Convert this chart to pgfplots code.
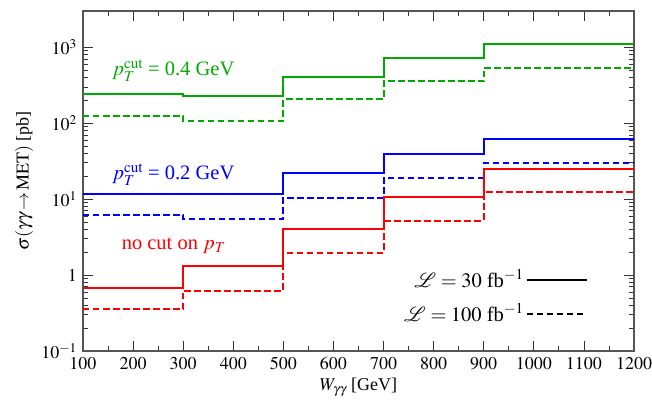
\documentclass[border=0pt]{standalone}
\usepackage{mathptmx}
\usepackage[no-math]{fontspec}
\setmainfont{Liberation Serif}
\usepackage{pgfplots}
\pgfplotsset{compat=1.18}
\definecolor{cgreen}{RGB}{0,170,0}
\definecolor{cblue}{RGB}{0,0,255}
\definecolor{cred}{RGB}{255,0,0}
\definecolor{axgray}{RGB}{85,85,85}
\begin{document}
\fontsize{18}{21}\selectfont
\begin{tikzpicture}
\begin{axis}[
  name=ax,
  scale only axis,
  width=551pt, height=340pt,
  ymode=log,
  xmin=100, xmax=1200,
  ymin=0.1, ymax=3000,
  xtick={100,200,...,1200},
  minor x tick num=1,
  xticklabel style={/pgf/number format/1000 sep={}},
  ytick={0.1,1,10,100,1000},
  yticklabels={$10^{-1}$,$1$,$10^1$,$10^2$,$10^3$},
  tick align=inside,
  major tick length=10pt,
  minor tick length=5pt,
  axis line style={axgray, line width=1.8pt},
  every tick/.style={black!80, line width=0.8pt},
  tick label style={font=\fontsize{18}{21}\selectfont},
  xlabel={$W_{\gamma\gamma}$ [GeV]},
  ylabel={$\sigma(\gamma\gamma\!\to\!\mathrm{MET})$ [pb]},
  xlabel style={yshift=4pt, font=\fontsize{18}{21}\selectfont},
  ylabel style={yshift=-4pt, font=\fontsize{18}{21}\selectfont},
  legend plot pos=right,
  legend cell align=right,
  legend style={draw=none, fill=none, at={(rel axis cs:0.922,0.252)}, anchor=north east,
    font=\fontsize{20.5}{24}\selectfont, row sep=10pt},
  legend image code/.code={\draw[#1] (0pt,0pt) -- (60pt,0pt);},
  every axis plot/.append style={line width=2pt, const plot},
]
\addlegendimage{black, solid, line width=2pt}
\addlegendentry{$\mathcal{L} = 30$ fb$^{-1}$}
\addlegendimage{black, dash pattern=on 6.5pt off 3.5pt, line width=2pt}
\addlegendentry{$\mathcal{L} = 100$ fb$^{-1}$}
% green, pT cut 0.4 GeV
\addplot[cgreen] coordinates {(100,240) (300,228) (500,411) (700,728) (900,1100) (1200,1100)};
\addplot[cgreen, dash pattern=on 6.5pt off 3.5pt] coordinates {(100,126) (300,107) (500,205) (700,355) (900,540) (1200,540)};
% blue, pT cut 0.2 GeV
\addplot[cblue] coordinates {(100,11.6) (300,11.6) (500,22) (700,39.4) (900,62) (1200,62)};
\addplot[cblue, dash pattern=on 6.5pt off 3.5pt] coordinates {(100,6.2) (300,5.45) (500,10.5) (700,19) (900,29.9) (1200,29.9)};
% red, no cut
\addplot[cred] coordinates {(100,0.67) (300,1.32) (500,4.0) (700,10.8) (900,24.7) (1200,24.7)};
\addplot[cred, dash pattern=on 6.5pt off 3.5pt] coordinates {(100,0.355) (300,0.625) (500,1.95) (700,5.2) (900,12.3) (1200,12.3)};
\node[cgreen, anchor=base west, inner sep=0pt, font=\fontsize{20.5}{24}\selectfont] at (axis cs:158,425) {$p_T^{\mathrm{cut}}$ = 0.4 GeV};
\node[cblue, anchor=base west, inner sep=0pt, font=\fontsize{20.5}{24}\selectfont] at (axis cs:158,18) {$p_T^{\mathrm{cut}}$ = 0.2 GeV};
\node[cred, anchor=base west, inner sep=0pt, font=\fontsize{20.5}{24}\selectfont] at (axis cs:177,2.15) {no cut on $p_T$};
\end{axis}
\pgfresetboundingbox
\path[use as bounding box] ([shift={(-83pt,-53pt)}]ax.south west) rectangle ([shift={(18pt,11pt)}]ax.north east);
\end{tikzpicture}
\end{document}
